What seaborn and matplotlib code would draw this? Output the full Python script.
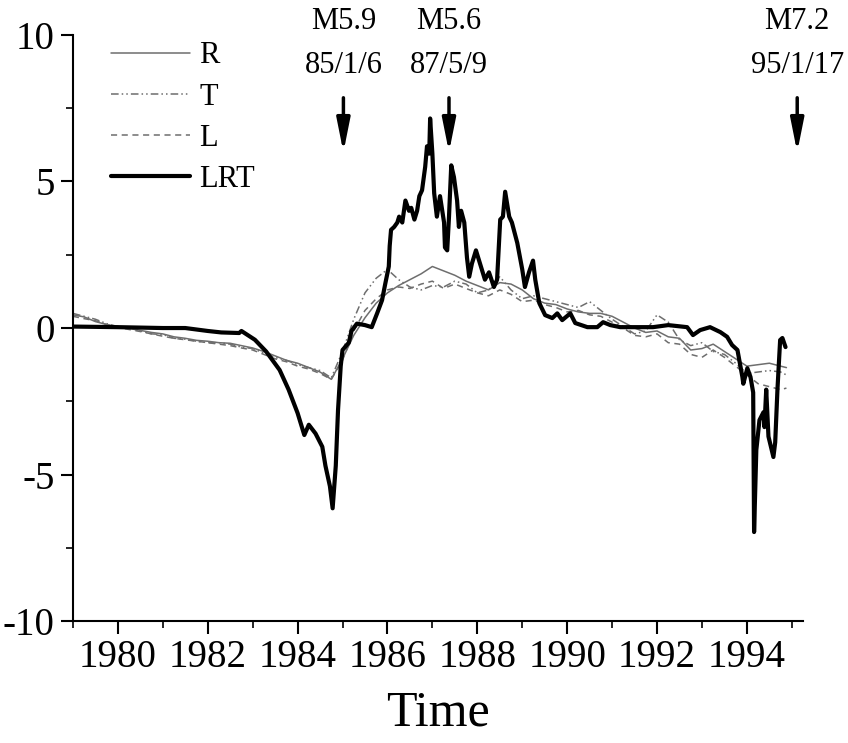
import numpy as np
import pandas as pd
import matplotlib
matplotlib.use("Agg")
import matplotlib.pyplot as plt
import seaborn as sns

# ---------------------------
# Data
# ---------------------------
# quarter-year grid for the three single-component curves
t_grid = [1979.00, 1979.25, 1979.50, 1979.75, 1980.00, 1980.25, 1980.50, 1980.75,
          1981.00, 1981.25, 1981.50, 1981.75, 1982.00, 1982.25, 1982.50, 1982.75,
          1983.00, 1983.25, 1983.50, 1983.75, 1984.00, 1984.25, 1984.50, 1984.75,
          1985.00, 1985.25, 1985.50, 1985.75, 1986.00, 1986.25, 1986.50, 1986.75,
          1987.00, 1987.25, 1987.50, 1987.75, 1988.00, 1988.25, 1988.50, 1988.75,
          1989.00, 1989.25, 1989.50, 1989.75, 1990.00, 1990.25, 1990.50, 1990.75,
          1991.00, 1991.25, 1991.50, 1991.75, 1992.00, 1992.25, 1992.50, 1992.75,
          1993.00, 1993.25, 1993.50, 1993.75, 1994.00, 1994.25, 1994.50, 1994.75,
          1994.88]

r_vals = [0.45, 0.38, 0.22, 0.12, 0.05, 0.0, -0.08, -0.15,
          -0.2, -0.3, -0.35, -0.42, -0.45, -0.5, -0.52, -0.6,
          -0.68, -0.8, -0.95, -1.1, -1.2, -1.35, -1.5, -1.75,
          -1.05, -0.25, 0.35, 0.85, 1.2, 1.45, 1.65, 1.85,
          2.1, 1.95, 1.8, 1.6, 1.45, 1.3, 1.55, 1.5,
          1.3, 1.0, 0.85, 0.8, 0.65, 0.55, 0.5, 0.5,
          0.4, 0.2, 0.0, -0.15, -0.1, -0.3, -0.35, -0.75,
          -0.7, -0.55, -0.8, -1.05, -1.3, -1.25, -1.2, -1.3,
          -1.35]

t_vals = [0.5, 0.4, 0.3, 0.15, 0.05, 0.0, -0.1, -0.2,
          -0.22, -0.35, -0.38, -0.45, -0.5, -0.5, -0.55, -0.65,
          -0.7, -0.85, -1.0, -1.1, -1.25, -1.35, -1.45, -1.7,
          -0.8, 0.3, 1.2, 1.7, 2.0, 1.65, 1.4, 1.3,
          1.45, 1.4, 1.6, 1.5, 1.2, 1.3, 1.75, 1.3,
          1.0, 1.1, 1.0, 0.9, 0.8, 0.7, 0.9, 0.6,
          0.3, 0.05, -0.2, -0.1, 0.45, 0.2, -0.4, -0.6,
          -0.5, -0.8, -0.9, -1.2, -1.55, -1.5, -1.45, -1.5,
          -1.6]

l_vals = [0.4, 0.32, 0.25, 0.12, 0.02, -0.05, -0.12, -0.2,
          -0.28, -0.35, -0.4, -0.45, -0.5, -0.55, -0.6, -0.68,
          -0.75, -0.9, -1.05, -1.15, -1.3, -1.4, -1.55, -1.75,
          -1.1, -0.1, 0.6, 1.0, 1.3, 1.4, 1.35, 1.5,
          1.6, 1.35, 1.5, 1.35, 1.2, 1.1, 1.3, 1.15,
          0.9, 0.95, 0.8, 0.7, 0.55, 0.6, 0.45, 0.4,
          0.2, 0.0, -0.25, -0.3, -0.2, -0.5, -0.55, -0.9,
          -1.0, -0.75, -1.0, -1.3, -1.6, -1.9, -2.0, -2.1,
          -2.05]

# combined LRT curve
lrt_time = [1979.0, 1980.0, 1981.0, 1981.5, 1982.0, 1982.3, 1982.7, 1982.75,
            1983.05, 1983.3, 1983.6, 1983.8, 1984.0, 1984.15, 1984.25, 1984.4,
            1984.55, 1984.62, 1984.72, 1984.78, 1984.85, 1984.9, 1984.96, 1985.0,
            1985.14, 1985.2, 1985.32, 1985.5, 1985.65, 1985.77, 1985.88, 1985.95,
            1986.03, 1986.05, 1986.08, 1986.15, 1986.22, 1986.26, 1986.33, 1986.4,
            1986.48, 1986.53, 1986.6, 1986.66, 1986.71, 1986.77, 1986.84, 1986.88,
            1986.93, 1986.95, 1987.0, 1987.04, 1987.1, 1987.17, 1987.26, 1987.28,
            1987.33, 1987.37, 1987.42, 1987.48, 1987.55, 1987.59, 1987.64, 1987.71,
            1987.77, 1987.82, 1987.88, 1987.97, 1988.06, 1988.17, 1988.26, 1988.37,
            1988.44, 1988.51, 1988.57, 1988.62, 1988.71, 1988.77, 1988.89, 1989.0,
            1989.06, 1989.15, 1989.24, 1989.29, 1989.38, 1989.51, 1989.67, 1989.78,
            1989.89, 1990.07, 1990.18, 1990.45, 1990.67, 1990.8, 1990.96, 1991.18,
            1991.91, 1992.25, 1992.67, 1992.8, 1992.96, 1993.18, 1993.41, 1993.56,
            1993.67, 1993.79, 1993.9, 1993.92, 1994.01, 1994.08, 1994.14, 1994.16,
            1994.21, 1994.28, 1994.37, 1994.39, 1994.43, 1994.48, 1994.59, 1994.63,
            1994.68, 1994.74, 1994.79, 1994.86]

lrt_vals = [0.05, 0.03, 0.0, 0.0, -0.1, -0.15, -0.17, -0.1,
            -0.4, -0.8, -1.43, -2.1, -2.9, -3.65, -3.3, -3.6,
            -4.05, -4.7, -5.4, -6.15, -4.7, -2.8, -1.3, -0.75,
            -0.5, -0.1, 0.15, 0.1, 0.03, 0.5, 0.95, 1.5,
            2.1, 2.8, 3.35, 3.45, 3.6, 3.8, 3.6, 4.35,
            4.0, 4.1, 3.7, 4.0, 4.5, 4.7, 5.5, 6.2,
            5.95, 7.15, 5.95, 4.6, 3.8, 4.5, 3.6, 2.75,
            2.65, 3.8, 5.55, 5.15, 4.35, 3.45, 4.0, 3.6,
            2.4, 1.75, 2.2, 2.65, 2.2, 1.65, 1.9, 1.4,
            1.65, 3.7, 3.8, 4.65, 3.8, 3.6, 2.9, 2.0,
            1.4, 1.9, 2.3, 1.65, 0.85, 0.44, 0.34, 0.5,
            0.27, 0.5, 0.17, 0.03, 0.03, 0.2, 0.1, 0.03,
            0.03, 0.1, 0.03, -0.24, -0.07, 0.03, -0.14, -0.3,
            -0.58, -0.75, -1.67, -1.9, -1.37, -1.67, -2.2, -6.96,
            -4.16, -3.14, -2.87, -3.38, -2.1, -3.7, -4.4, -3.9,
            -2.1, -0.41, -0.34, -0.65]

# earthquakes
eq_time = [1985.02, 1987.37, 1995.12]
eq_mag = ["M5.9", "M5.6", "M7.2"]
eq_date = ["85/1/6", "87/5/9", "95/1/17"]

# ---------------------------
# Plot
# ---------------------------
sns.set_style("ticks")
plt.rcParams["font.family"] = ["Liberation Serif", "DejaVu Serif"]
plt.rcParams["axes.unicode_minus"] = False
plt.rcParams["text.color"] = "black"
plt.rcParams["axes.labelcolor"] = "black"

fig = plt.figure(figsize=(8.48, 7.43), dpi=100)
ax = fig.add_axes([0.086, 0.164, 0.861, 0.789])

gray = "#6e6e6e"
sns.lineplot(x=t_grid, y=r_vals, ax=ax, color=gray, lw=1.1, estimator=None,
             label="R")
sns.lineplot(x=t_grid, y=t_vals, ax=ax, color=gray, lw=1.1, estimator=None,
             linestyle=(0, (5, 2, 1, 2, 1, 2)), label="T")
sns.lineplot(x=t_grid, y=l_vals, ax=ax, color=gray, lw=1.1, estimator=None,
             linestyle=(0, (4, 3)), label="L")
sns.lineplot(x=lrt_time, y=lrt_vals, ax=ax, color="black", lw=3.0,
             estimator=None, label="LRT")

ax.set_xlim(1979, 1995.25)
ax.set_ylim(-10, 10)
ax.set_xticks(np.arange(1980, 1995, 2))
ax.set_xticks(np.arange(1979, 1996, 2), minor=True)
ax.set_yticks([-10, -5, 0, 5, 10])
ax.set_yticks(np.arange(-7.5, 10, 5), minor=True)

for side in ["top", "right"]:
    ax.spines[side].set_visible(False)
for side in ["left", "bottom"]:
    ax.spines[side].set_linewidth(1.5)
    ax.spines[side].set_color("black")

ax.tick_params(which="major", direction="out", length=9, width=1.5,
               labelsize=28, pad=4, colors="black")
ax.tick_params(which="minor", direction="out", length=5, width=1.2,
               colors="black")
ax.set_xlabel("Time", fontsize=36, labelpad=10)
ax.set_ylabel("")

for x, m, d in zip(eq_time, eq_mag, eq_date):
    ax.annotate("", xy=(x, 5.9), xytext=(x, 7.95),
                arrowprops=dict(arrowstyle="-|>,head_length=1.0,head_width=0.2",
                                color="black", lw=2.5, mutation_scale=20),
                annotation_clip=False)
    ax.text(x, 10.45, m, ha="center", va="center", fontsize=22, clip_on=False)
    ax.text(x, 8.95, d, ha="center", va="center", fontsize=22, clip_on=False)

leg = ax.legend(loc="upper left", bbox_to_anchor=(0.035, 1.01), frameon=False,
                fontsize=22, handlelength=2.6, handletextpad=0.3,
                labelspacing=0.4, borderaxespad=0)

fig.savefig("out.png", dpi=100)
